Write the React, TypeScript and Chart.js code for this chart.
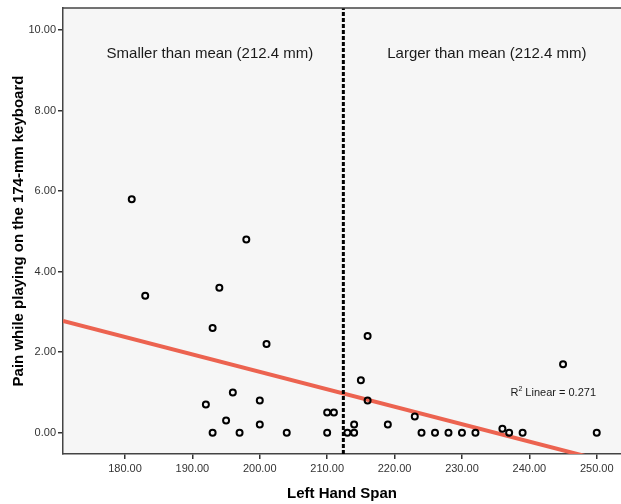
import React, { useEffect, useRef } from "react";
import { Chart, registerables } from "chart.js";
Chart.register(...registerables);

// Left hand span (mm) and pain score on the 174-mm keyboard
const handSpan = [
  181, 198, 183, 194, 193, 201, 196, 192, 200, 195, 193, 197, 200, 204,
  210, 211, 210, 213, 214, 214, 215, 216, 216, 219, 223, 224, 226, 228,
  230, 232, 236, 237, 239, 245, 250,
];
const pain = [
  5.8, 4.8, 3.4, 3.6, 2.6, 2.2, 1.0, 0.7, 0.8, 0.3, 0, 0, 0.2, 0,
  0.5, 0.5, 0, 0, 0, 0.2, 1.3, 2.4, 0.8, 0.2, 0.4, 0, 0, 0,
  0, 0, 0.1, 0, 0, 1.7, 0,
];
const xTicks = [180, 190, 200, 210, 220, 230, 240, 250];
const yTicks = [0, 2, 4, 6, 8, 10];
const meanSpan = 212.4;
const fitIntercept = 10.17;
const fitSlope = -0.0433;
const xRange = [170.8, 253.6];
const yRange = [-0.53, 10.55];
const labelLeft = "Smaller than mean (212.4 mm)";
const labelRight = "Larger than mean (212.4 mm)";
const r2Label = "Linear = 0.271";
const xTitle = "Left Hand Span";
const yTitle = "Pain while playing on the 174-mm keyboard";

const FONT = "'Liberation Sans', Arial, Helvetica, sans-serif";

export default function App() {
  const ref = useRef<HTMLCanvasElement>(null);
  useEffect(() => {
    if (!ref.current) return;
    const decor = {
      id: "decor",
      beforeDraw(chart: any) {
        const { ctx, chartArea: a } = chart;
        ctx.save();
        ctx.fillStyle = "#f6f6f6";
        ctx.fillRect(a.left, a.top, a.right - a.left, a.bottom - a.top);
        ctx.restore();
      },
      afterDraw(chart: any) {
        const { ctx, chartArea: a, scales } = chart;
        const xs = scales.x, ys = scales.y;
        ctx.save();
        ctx.strokeStyle = "#444";
        ctx.lineWidth = 1.5;
        ctx.beginPath();
        ctx.moveTo(a.left, a.top);
        ctx.lineTo(a.right, a.top);
        ctx.stroke();
        ctx.fillStyle = "#1a1a1a";
        ctx.font = `15px ${FONT}`;
        ctx.textBaseline = "middle";
        ctx.textAlign = "center";
        ctx.fillText(labelLeft, xs.getPixelForValue(192.6), ys.getPixelForValue(9.41));
        ctx.fillText(labelRight, xs.getPixelForValue(233.7), ys.getPixelForValue(9.41));
        ctx.textAlign = "left";
        ctx.font = `11px ${FONT}`;
        const rx = xs.getPixelForValue(237.2);
        const ry = ys.getPixelForValue(0.99);
        ctx.fillText("R", rx, ry);
        const rw = ctx.measureText("R").width;
        ctx.font = `7px ${FONT}`;
        ctx.fillText("2", rx + rw, ry - 4);
        const sw = ctx.measureText("2").width;
        ctx.font = `11px ${FONT}`;
        ctx.fillText(" " + r2Label, rx + rw + sw, ry);
        ctx.restore();
      },
    };
    const fitX = [xRange[0], xRange[1]];
    const chart = new Chart(ref.current, {
      type: "scatter",
      data: {
        datasets: [
          {
            label: "points",
            data: handSpan.map((x, i) => ({ x, y: pain[i] })),
            pointRadius: 3,
            pointBorderWidth: 2,
            pointBorderColor: "#000",
            pointBackgroundColor: "rgba(0,0,0,0)",
            order: 0,
          },
          {
            label: "fit",
            data: fitX.map((x) => ({ x, y: fitIntercept + fitSlope * x })),
            showLine: true,
            borderColor: "#ec6350",
            borderWidth: 4,
            pointRadius: 0,
            order: 2,
          },
          {
            label: "mean",
            data: [
              { x: meanSpan, y: yRange[0] },
              { x: meanSpan, y: yRange[1] },
            ],
            showLine: true,
            borderColor: "#000",
            borderWidth: 3,
            borderDash: [4, 2],
            pointRadius: 0,
            order: 1,
          },
        ],
      },
      options: {
        responsive: false,
        animation: false,
        layout: { autoPadding: false, padding: { top: 8, right: 0, left: 0, bottom: 0 } },
        plugins: { legend: { display: false }, tooltip: { enabled: false } },
        scales: {
          x: {
            type: "linear",
            min: xRange[0],
            max: xRange[1],
            afterBuildTicks: (s: any) => {
              s.ticks = xTicks.map((v) => ({ value: v }));
            },
            afterFit: (s: any) => {
              s.height = 50;
              s.paddingLeft = 0;
              s.paddingRight = 0;
            },
            ticks: {
              color: "#333",
              font: { family: FONT, size: 11 },
              padding: 3,
              callback: (v: any) => Number(v).toFixed(2),
            },
            grid: {
              drawOnChartArea: false,
              drawTicks: true,
              tickLength: 5,
              color: "#333",
              lineWidth: 1.5,
            },
            border: { display: true, color: "#444", width: 1.5 },
            title: {
              display: true,
              text: xTitle,
              color: "#000",
              font: { family: FONT, size: 15, weight: "bold" },
              padding: { top: 0, bottom: 1 },
            },
          },
          y: {
            type: "linear",
            min: yRange[0],
            max: yRange[1],
            afterBuildTicks: (s: any) => {
              s.ticks = yTicks.map((v) => ({ value: v }));
            },
            afterFit: (s: any) => {
              s.width = 63;
              s.paddingTop = 0;
              s.paddingBottom = 0;
            },
            ticks: {
              color: "#333",
              font: { family: FONT, size: 11 },
              padding: 2,
              callback: (v: any) => Number(v).toFixed(2),
            },
            grid: {
              drawOnChartArea: false,
              drawTicks: true,
              tickLength: 5,
              color: "#333",
              lineWidth: 1.5,
            },
            border: { display: true, color: "#444", width: 1.5 },
            title: {
              display: true,
              text: yTitle,
              color: "#000",
              font: { family: FONT, size: 15, weight: "bold" },
              padding: { top: 10, bottom: 0 },
            },
          },
        },
      },
      plugins: [decor],
    } as any);
    return () => chart.destroy();
  }, []);
  return (
    <div style={{ position: "fixed", left: 0, top: 0, width: 621, height: 504, background: "#fff" }}>
      <canvas ref={ref} width={621} height={504} style={{ width: 621, height: 504 }} />
    </div>
  );
}
